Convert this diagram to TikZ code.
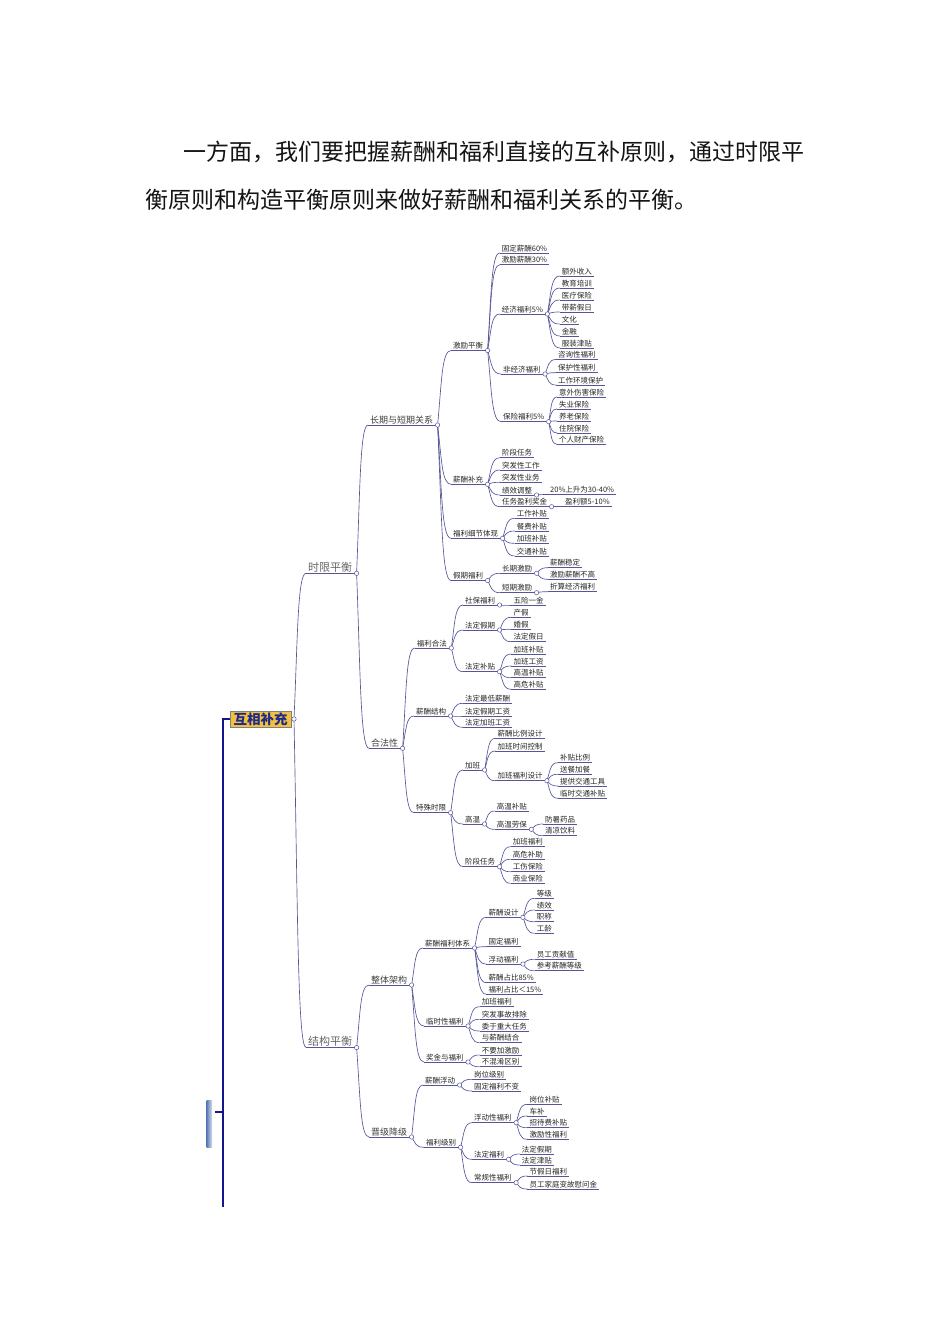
\documentclass[tikz,border=0pt]{standalone}
\usepackage{fontspec}
\setmainfont{Noto Sans CJK SC}
\usepackage{tikz}
\usetikzlibrary{calc}
\definecolor{mmline}{HTML}{55559A}
\definecolor{mmtext}{HTML}{262626}
\definecolor{rootfill}{HTML}{F2C140}
\definecolor{rootink}{HTML}{1C2A8C}
\definecolor{spineblue}{HTML}{14148C}
\definecolor{barblue}{HTML}{5A78B8}
\tikzset{
  lv1/.style={font=\fontsize{11}{13}\selectfont,text=black!60,inner xsep=2pt,inner ysep=1pt},
  lv2/.style={font=\fontsize{9}{11}\selectfont,text=black!75,inner xsep=2pt,inner ysep=1pt},
  lv3/.style={font=\fontsize{7.5}{9}\selectfont,text=mmtext,inner xsep=2pt,inner ysep=1pt},
  uline/.style={draw=mmline,line width=0.65pt},
  link/.style={draw=mmline,line width=0.65pt},
  knot/.style={draw=mmline,fill=white,line width=0.5pt},
  rootbox/.style={draw=black!50,fill=rootfill,text=rootink,font=\fontsize{13.5}{15}\selectfont\bfseries,inner xsep=3.5pt,inner ysep=1.5pt,minimum height=16pt},
  spine/.style={draw=spineblue,line width=2.2pt},
  ttl/.style={font=\fontsize{23}{28}\selectfont,text=black!92,inner sep=0pt,anchor=west}
}
% name, parent, text x, underline y, style, text
\newcommand\mmnode[6]{%
  \node[#5,anchor=south west] (#1) at ({#3-2},#4) {#6};
  \coordinate (#1-c) at ($(#1.south east)+(2.2,0)$);
  \draw[uline] (#1.south west) -- (#1.south east);
  \draw[link] let \p1=(#2-c), \p2=(#1.south west) in
    (\p1) .. controls ({\x1+0.3*(\x2-\x1)},{\y1+0.55*(\y2-\y1)}) and ({\x1+0.3*(\x2-\x1)},\y2) .. (\p2);
}

\begin{document}
\begin{tikzpicture}[x=1pt,y=-1pt]
\fill[white] (0,0) rectangle (950,1344);
\useasboundingbox (0,0) rectangle (950,1344);

\node[ttl] (ttl1) at (183,152) {一方面，我们要把握薪酬和福利直接的互补原则，通过时限平};
\node[ttl] (ttl2) at (145,200) {衡原则和构造平衡原则来做好薪酬和福利关系的平衡。};

% root and left bar
\node[rootbox,anchor=west] (root) at (230,719) {互相补充};
\coordinate (root-c) at ($(root.east)+(2.6,0)$);
\coordinate (sp-top) at (223,719);
\coordinate (sp-bot) at (223,1207);
\coordinate (sp-tick) at (223,1112);
\coordinate (tick-end) at (215,1112);
\draw[spine] (root.west) -- (sp-top) -- (sp-bot);
\draw[spine,line width=1.6pt] (sp-tick) -- (tick-end);
\shade[left color=barblue,right color=barblue!25] (206.5,1100) rectangle (212,1147);

\mmnode{sx}{root}{308}{573.3}{lv1}{时限平衡}
\mmnode{jg}{root}{308}{1047.5}{lv1}{结构平衡}
\mmnode{cq}{sx}{370}{425}{lv2}{长期与短期关系}
\mmnode{hf}{sx}{371}{748.3}{lv2}{合法性}
\mmnode{zt}{jg}{371}{985}{lv2}{整体架构}
\mmnode{jj}{jg}{371}{1137}{lv2}{晋级降级}

% long / short term
\mmnode{jl}{cq}{453}{350.5}{lv3}{激励平衡}
\mmnode{xc}{cq}{453}{484.3}{lv3}{薪酬补充}
\mmnode{xj}{cq}{453}{538.3}{lv3}{福利细节体现}
\mmnode{jq}{cq}{453}{580.5}{lv3}{假期福利}

\mmnode{gd}{jl}{501.7}{253}{lv3}{固定薪酬60\%}
\mmnode{jx}{jl}{501.7}{264.7}{lv3}{激励薪酬30\%}
\mmnode{jf}{jl}{501.7}{314}{lv3}{经济福利5\%}
\mmnode{fj}{jl}{503}{374}{lv3}{非经济福利}
\mmnode{bx}{jl}{503}{421.7}{lv3}{保险福利5\%}

\mmnode{jf1}{jf}{561.7}{276}{lv3}{额外收入}
\mmnode{jf2}{jf}{561.7}{288}{lv3}{教育培训}
\mmnode{jf3}{jf}{561.7}{300}{lv3}{医疗保险}
\mmnode{jf4}{jf}{561.7}{312}{lv3}{带薪假日}
\mmnode{jf5}{jf}{561.7}{324}{lv3}{文化}
\mmnode{jf6}{jf}{561.7}{336}{lv3}{金融}
\mmnode{jf7}{jf}{561.7}{348}{lv3}{服装津贴}

\mmnode{fj1}{fj}{558}{359.5}{lv3}{咨询性福利}
\mmnode{fj2}{fj}{558}{372.7}{lv3}{保护性福利}
\mmnode{fj3}{fj}{558}{385}{lv3}{工作环境保护}

\mmnode{bx1}{bx}{559}{397}{lv3}{意外伤害保险}
\mmnode{bx2}{bx}{559}{409}{lv3}{失业保险}
\mmnode{bx3}{bx}{559}{421}{lv3}{养老保险}
\mmnode{bx4}{bx}{559}{433}{lv3}{住院保险}
\mmnode{bx5}{bx}{559}{444.5}{lv3}{个人财产保险}

\mmnode{xc1}{xc}{502}{457.7}{lv3}{阶段任务}
\mmnode{xc2}{xc}{502}{470}{lv3}{突发性工作}
\mmnode{xc3}{xc}{502}{482.3}{lv3}{突发性业务}
\mmnode{xc4}{xc}{502}{495}{lv3}{绩效调整}
\mmnode{xc5}{xc}{502}{506.7}{lv3}{任务盈利奖金}
\mmnode{xc4a}{xc4}{550}{494.5}{lv3}{20\%上升为30-40\%}
\mmnode{xc5a}{xc5}{565}{506.7}{lv3}{盈利额5-10\%}

\mmnode{xj1}{xj}{516.7}{518.3}{lv3}{工作补贴}
\mmnode{xj2}{xj}{516.7}{531}{lv3}{餐费补贴}
\mmnode{xj3}{xj}{516.7}{543.3}{lv3}{加班补贴}
\mmnode{xj4}{xj}{516.7}{556}{lv3}{交通补贴}

\mmnode{jq1}{jq}{502}{573.3}{lv3}{长期激励}
\mmnode{jq2}{jq}{502}{592.7}{lv3}{短期激励}
\mmnode{jq1a}{jq1}{550}{567.7}{lv3}{薪酬稳定}
\mmnode{jq1b}{jq1}{550}{579.3}{lv3}{激励薪酬不高}
\mmnode{jq2a}{jq2}{550}{591.7}{lv3}{折算经济福利}

% legality
\mmnode{fh}{hf}{416.7}{648}{lv3}{福利合法}
\mmnode{xg}{hf}{416}{716}{lv3}{薪酬结构}
\mmnode{ts}{hf}{416}{812.7}{lv3}{特殊时限}

\mmnode{sb}{fh}{465}{605}{lv3}{社保福利}
\mmnode{sb1}{sb}{513.3}{605}{lv3}{五险一金}
\mmnode{fq}{fh}{465}{630}{lv3}{法定假期}
\mmnode{fq1}{fq}{513.3}{617.3}{lv3}{产假}
\mmnode{fq2}{fq}{513.3}{629.3}{lv3}{婚假}
\mmnode{fq3}{fq}{513.3}{641.7}{lv3}{法定假日}
\mmnode{fb}{fh}{465}{671.7}{lv3}{法定补贴}
\mmnode{fb1}{fb}{513.3}{654}{lv3}{加班补贴}
\mmnode{fb2}{fb}{513.3}{666}{lv3}{加班工资}
\mmnode{fb3}{fb}{513.3}{677.7}{lv3}{高温补贴}
\mmnode{fb4}{fb}{513.3}{689.3}{lv3}{高危补贴}

\mmnode{xg1}{xg}{465}{703.3}{lv3}{法定最低薪酬}
\mmnode{xg2}{xg}{465}{716}{lv3}{法定假期工资}
\mmnode{xg3}{xg}{465}{727.3}{lv3}{法定加班工资}

\mmnode{jb}{ts}{465}{770}{lv3}{加班}
\mmnode{jb1}{jb}{497.3}{738.3}{lv3}{薪酬比例设计}
\mmnode{jb2}{jb}{497.3}{751}{lv3}{加班时间控制}
\mmnode{jb3}{jb}{497.3}{780.7}{lv3}{加班福利设计}
\mmnode{jb3a}{jb3}{560}{762.7}{lv3}{补贴比例}
\mmnode{jb3b}{jb3}{560}{774.3}{lv3}{送餐加餐}
\mmnode{jb3c}{jb3}{560}{786}{lv3}{提供交通工具}
\mmnode{jb3d}{jb3}{560}{798.3}{lv3}{临时交通补贴}
\mmnode{gw}{ts}{465}{824}{lv3}{高温}
\mmnode{gw1}{gw}{496.7}{811}{lv3}{高温补贴}
\mmnode{gw2}{gw}{496.7}{829.3}{lv3}{高温劳保}
\mmnode{gw2a}{gw2}{545}{824}{lv3}{防暑药品}
\mmnode{gw2b}{gw2}{545}{835.7}{lv3}{清凉饮料}
\mmnode{jd}{ts}{465}{866.7}{lv3}{阶段任务}
\mmnode{jd1}{jd}{512.7}{846.7}{lv3}{加班福利}
\mmnode{jd2}{jd}{512.7}{859.3}{lv3}{高危补助}
\mmnode{jd3}{jd}{512.7}{871.7}{lv3}{工伤保险}
\mmnode{jd4}{jd}{512.7}{883.3}{lv3}{商业保险}

% overall frame
\mmnode{tx}{zt}{425}{948}{lv3}{薪酬福利体系}
\mmnode{ls}{zt}{426}{1026}{lv3}{临时性福利}
\mmnode{jy}{zt}{426}{1062}{lv3}{奖金与福利}
\mmnode{xs}{tx}{488.3}{917.3}{lv3}{薪酬设计}
\mmnode{xs1}{xs}{536.7}{898.3}{lv3}{等级}
\mmnode{xs2}{xs}{536.7}{910}{lv3}{绩效}
\mmnode{xs3}{xs}{536.7}{921.7}{lv3}{职称}
\mmnode{xs4}{xs}{536.7}{933.3}{lv3}{工龄}
\mmnode{gf}{tx}{488.3}{946.7}{lv3}{固定福利}
\mmnode{fd}{tx}{488.3}{964}{lv3}{浮动福利}
\mmnode{fd1}{fd}{536.7}{959.3}{lv3}{员工贡献值}
\mmnode{fd2}{fd}{536.7}{970.7}{lv3}{参考薪酬等级}
\mmnode{zb1}{tx}{488.3}{982.7}{lv3}{薪酬占比85\%}
\mmnode{zb2}{tx}{488.3}{994.3}{lv3}{福利占比＜15\%}
\mmnode{ls1}{ls}{481.7}{1006.7}{lv3}{加班福利}
\mmnode{ls2}{ls}{481.7}{1019.3}{lv3}{突发事故排除}
\mmnode{ls3}{ls}{481.7}{1031}{lv3}{委于重大任务}
\mmnode{ls4}{ls}{481.7}{1042.7}{lv3}{与薪酬结合}
\mmnode{jy1}{jy}{481.7}{1055}{lv3}{不要加激励}
\mmnode{jy2}{jy}{481.7}{1066.7}{lv3}{不混淆区别}

% promotion / demotion
\mmnode{xf}{jj}{425}{1085}{lv3}{薪酬浮动}
\mmnode{xf1}{xf}{474}{1079.3}{lv3}{岗位级别}
\mmnode{xf2}{xf}{474}{1091}{lv3}{固定福利不变}
\mmnode{fl}{jj}{426}{1147.3}{lv3}{福利级别}
\mmnode{fx}{fl}{474}{1122.7}{lv3}{浮动性福利}
\mmnode{fx1}{fx}{529.3}{1104.3}{lv3}{岗位补贴}
\mmnode{fx2}{fx}{529.3}{1116}{lv3}{车补}
\mmnode{fx3}{fx}{529.3}{1127.7}{lv3}{招待费补贴}
\mmnode{fx4}{fx}{529.3}{1139.3}{lv3}{激励性福利}
\mmnode{fdf}{fl}{474}{1159.3}{lv3}{法定福利}
\mmnode{fdf1}{fdf}{521.7}{1154}{lv3}{法定假期}
\mmnode{fdf2}{fdf}{521.7}{1165}{lv3}{法定津贴}
\mmnode{cg}{fl}{474}{1182.7}{lv3}{常规性福利}
\mmnode{cg1}{cg}{529.3}{1176}{lv3}{节假日福利}
\mmnode{cg2}{cg}{529.3}{1189}{lv3}{员工家庭变故慰问金}

% knots on top
\foreach \p in {root,sx,jg,cq,hf,zt,jj,jl,xc,xj,jq,jf,fj,bx,xc4,xc5,jq1,jq2,
  fh,xg,ts,sb,fq,fb,jb,jb3,gw,gw2,jd,tx,ls,jy,xs,fd,xf,fl,fx,fdf,cg}
  \draw[knot] (\p-c) circle (2.2);
\end{tikzpicture}
\end{document}
